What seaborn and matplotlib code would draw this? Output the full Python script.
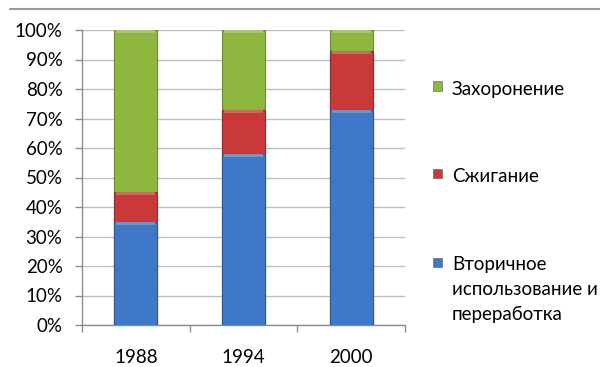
import matplotlib
matplotlib.use("Agg")
import matplotlib.pyplot as plt
from matplotlib.patches import Rectangle
from matplotlib.lines import Line2D
import seaborn as sns
import pandas as pd
import numpy as np

years = ["1988", "1994", "2000"]
recycling = [35, 58, 73]    # Вторичное использование и переработка
incineration = [10, 15, 20]  # Сжигание
landfill = [55, 27, 7]       # Захоронение
series_labels = [["Вторичное", "использование и", "переработка"],
                 ["Сжигание"], ["Захоронение"]]
y_ticks = [0, 10, 20, 30, 40, 50, 60, 70, 80, 90, 100]

colors = ["#3f78c6", "#c9393a", "#8fb740"]
edges = ["#2d5a95", "#952a2a", "#6a8a2c"]

sns.set_theme(style="white")
plt.rcParams["font.family"] = ["Lato", "DejaVu Sans"]

df = pd.DataFrame({
    "year": years,
    "recycling": recycling,
    "incineration": incineration,
    "landfill": landfill,
})
# cumulative tops for stacking: draw tallest first
df["top_landfill"] = df["recycling"] + df["incineration"] + df["landfill"]
df["top_incineration"] = df["recycling"] + df["incineration"]
df["top_recycling"] = df["recycling"]

fig = plt.figure(figsize=(6.0, 3.67), dpi=100)
ax = fig.add_axes([82 / 600, 1 - 325 / 367, (405 - 82) / 600, (325 - 30) / 367])

for col, c, e in zip(["top_landfill", "top_incineration", "top_recycling"],
                     colors[::-1], edges[::-1]):
    sns.barplot(data=df, x="year", y=col, color=c, width=0.4, ax=ax,
                edgecolor=e, linewidth=0.8, saturation=1, zorder=3)

# subtle bevel highlight along the top of each segment
for bar in list(ax.patches):
    x, y = bar.get_x(), bar.get_y()
    w, h = bar.get_width(), bar.get_height()
    if h <= 0:
        continue
    fc = np.array(matplotlib.colors.to_rgb(bar.get_facecolor()))
    light = np.clip(fc + (1 - fc) * 0.22, 0, 1)
    hh = min(1.0, h * 0.3)
    ax.add_patch(Rectangle((x + w * 0.05, y + h - hh), w * 0.9, hh,
                           facecolor=light, edgecolor="none", zorder=4))

ax.set_ylim(0, 100)
ax.set_xlim(-0.5, 2.5)
ax.set_yticks(y_ticks)
ax.set_yticklabels([f"{v}%" for v in y_ticks])
ax.set_xlabel("")
ax.set_ylabel("")
ax.yaxis.grid(True, color="#bfbfbf", linewidth=1.0, zorder=0)
ax.set_axisbelow(True)

for s in ["top", "right"]:
    ax.spines[s].set_visible(False)
for s in ["left", "bottom"]:
    ax.spines[s].set_color("#8c8c8c")
    ax.spines[s].set_linewidth(1.0)

ax.tick_params(axis="y", which="both", left=True, length=5, width=1.0,
               color="#8c8c8c", pad=9, labelsize=13.5, labelcolor="#000000")
ax.tick_params(axis="x", which="major", bottom=False, length=0, pad=17,
               labelsize=13.5, labelcolor="#000000")
ax.set_xticks([-0.5, 0.5, 1.5, 2.5], minor=True)
ax.tick_params(axis="x", which="minor", bottom=True, length=5, width=1.0,
               color="#8c8c8c")

# legend: marker centre and text baselines (pixels from the top)
legend_items = [(series_labels[2], colors[2], 86, [95]),
                (series_labels[1], colors[1], 173, [182]),
                (series_labels[0], colors[0], 262, [270, 295, 320])]
for lines, c, ypix, baselines in legend_items:
    fig.patches.append(Rectangle((433 / 600, 1 - (ypix + 4.5) / 367), 9 / 600, 9 / 367,
                                 transform=fig.transFigure, facecolor=c,
                                 edgecolor="#555555", linewidth=0.4, figure=fig))
    for line, b in zip(lines, baselines):
        fig.text(452 / 600, 1 - b / 367, line, ha="left", va="baseline",
                 fontsize=13.5, color="#000000")

# frame line across the top
fig.add_artist(Line2D([10 / 600, 1.0], [1 - 9 / 367, 1 - 9 / 367],
                      transform=fig.transFigure, color="#9a9a9a", linewidth=1.5))

fig.savefig("out.png", dpi=100)
